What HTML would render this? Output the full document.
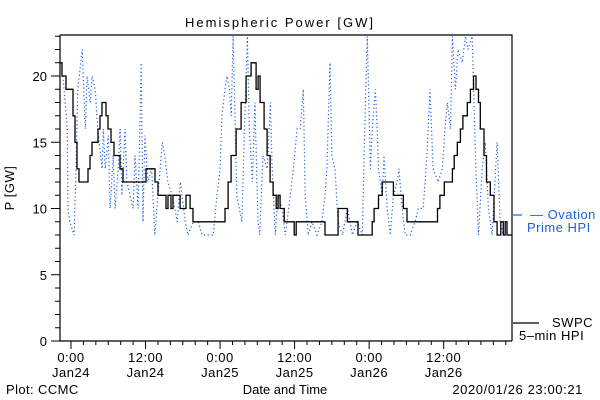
<!DOCTYPE html>
<html><head><meta charset="utf-8"><style>
body{margin:0;background:#fff}
svg{display:block}
text{font-family:"Liberation Sans",sans-serif;font-size:13px}
</style></head><body>
<svg id="chart" width="600" height="400" viewBox="0 0 600 400">
<rect width="600" height="400" fill="#fff"/>
<text x="280" y="27" text-anchor="middle" font-size="16" letter-spacing="2">Hemispheric Power [GW]</text>
<defs><clipPath id="pc"><rect x="60" y="35" width="452" height="306"/></clipPath></defs>
<g id="grid"></g>
<g id="series" clip-path="url(#pc)"></g>
<path d="M60,35H512V341M60,35V341H512" fill="none" stroke="#000" stroke-width="1.2"/>
<g id="axes"></g>
<text x="14" y="188" transform="rotate(-90 14 188)" text-anchor="middle" letter-spacing="0.5">P [GW]</text>
<text x="285" y="394" text-anchor="middle">Date and Time</text>
<text x="6" y="394" letter-spacing="0.4">Plot: CCMC</text>
<text x="583" y="394" text-anchor="end" letter-spacing="0.6">2020/01/26 23:00:21</text>
<g>
<line x1="513" y1="215" x2="522" y2="215" stroke="#1f5fe0" stroke-width="1.2"/>
<text x="530" y="219" fill="#1f5fe0" letter-spacing="0.5">— Ovation</text>
<text x="527" y="232" fill="#1f5fe0" letter-spacing="0.5">Prime HPI</text>
</g>
<g>
<line x1="513" y1="323" x2="539" y2="323" stroke="#000" stroke-width="1.2"/>
<text x="552" y="327" letter-spacing="0.5">SWPC</text>
<text x="519" y="340" letter-spacing="0.5">5–min HPI</text>
</g>
</svg>
<script>
const yTicks=[0,5,10,15,20];
const xTickHours=[0,12,24,36,48,60];
const xTickTimes=["0:00","12:00","0:00","12:00","0:00","12:00"];
const xTickDays=["Jan24","Jan24","Jan25","Jan25","Jan26","Jan26"];
const swpcHours=[-1.77,-1.45,-0.8,0,0.32,0.64,0.97,1.29,2.26,2.74,3.06,3.38,4.03,4.35,4.67,4.99,5.32,5.64,5.96,6.44,6.93,7.57,7.89,8.38,11.76,12.08,13.21,13.53,14.01,14.98,15.3,15.62,16.1,16.43,17.24,17.56,18.2,18.52,19.17,19.65,24.32,24.8,25.29,25.77,26.58,27.38,28.19,28.99,29.48,29.8,30.12,30.45,31.09,31.57,32.06,32.54,33.03,33.35,33.67,34.32,35.29,35.93,36.25,38.0,40.9,43.0,44.5,46.2,48.5,48.8,49.5,50.1,51.9,53.5,54.1,58.6,59.0,59.4,60.1,61.4,61.7,62.2,62.7,63.1,63.8,64.3,64.8,65.2,65.6,65.9,66.5,66.9,67.5,68.1,68.6,69.2,69.6,69.9,70.2,71.0];
const swpcPower=[21,20,19,19,17,15,13,12,12,13,14,15,15,16,17,18,18,17,16,15,14,14,13,12,12,13,13,12,11,11,10,11,10,11,11,10,10,11,10,9,9,10,12,14,16,18,20,21,21,19,20,18,16,14,12,11,10,11,10,9,9,8,9,9,8,10,9,8,9,10,11,12,11,10,9,9,10,11,12,13,14,15,16,17,18,19,20,19,18,16,14,12,11,9,8,9,8,9,8,8];
const ovHours=[-1.3,-0.6,-0.5,-0.2,0.5,0.8,1.1,1.8,2.3,2.6,3.1,3.4,3.9,4.3,5.0,5.2,5.5,6.0,6.3,6.8,7.1,7.6,7.9,8.2,8.7,9.0,9.5,10.0,10.3,10.8,11.3,11.6,11.9,12.4,13.0,13.5,14.0,14.7,15.1,15.6,16.3,17.1,17.6,18.4,18.8,19.7,20.5,21.1,22.1,22.9,23.5,24.0,24.3,24.8,25.1,25.5,25.8,26.1,26.7,27.5,28.0,28.4,28.7,29.2,29.6,30.1,30.4,30.9,31.6,32.1,32.4,32.9,33.3,34.0,34.5,35.3,35.8,36.4,36.9,37.4,37.7,38.2,38.8,39.6,40.4,40.9,41.2,41.7,42.0,42.5,43.0,43.7,44.5,45.3,46.1,46.9,47.4,47.7,48.2,48.5,49.0,49.3,49.5,50.1,50.4,50.9,51.4,51.9,52.5,52.8,53.3,53.8,54.6,55.4,55.9,56.7,57.3,57.8,58.3,59.1,59.8,60.2,60.6,61.1,61.4,61.9,62.3,63.0,63.5,63.9,64.6,65.1,65.6,66.2,66.7,67.2,67.8,68.6,69.1,69.6,70.4,71.0];
const ovPower=[20,16,10,9,8,13,19,22,16,20,18,20,19,16,13,16,13,15.5,10,14,10,13,16,11,16,12,11,10,14,10,21,9,15.5,12,13,8,11,15,14,12,11,9,12,9,8,9,9,8,8,8,11,13,17,19,20,19,17,23,11,9,17,23,16,12,18,9,8,14,13,18,13,8,11,10,8,11,13,16,16,19,11,8,9,8,9,11,13,21,14,13,9,8,10,8,9,8,18,23,13,16,19,16,13,11,14,10,8,11,12,13,10,8,8,9,10,10,14,19,13,12,13,16,18,16,23,19,22,21,23,22,23,14,8,13,15,10,8,15,9,8,8,8];

const NS="http://www.w3.org/2000/svg";
const X0=60,X1=512,H0=-1.77,H1=71.0,Y0=341,YS=13.25;
function xs(h){return X0+(h-H0)*(X1-X0)/(H1-H0);}
function ys(v){return Y0-v*YS;}
const axes=document.getElementById('axes');
const series=document.getElementById('series');
function mk(tag,attrs,parent){const e=document.createElementNS(NS,tag);for(const k in attrs)e.setAttribute(k,attrs[k]);parent.appendChild(e);return e;}
for(let v=0;v<=23;v++){
  const l=mk('line',{x1:X0,x2:X0-(v%5===0?9:5),y1:ys(v),y2:ys(v),stroke:'#000','stroke-width':1},axes);
  
  
}
yTicks.forEach(v=>{
  const t=mk('text',{x:47,y:ys(v)+5,'text-anchor':'end'},axes);t.textContent=v;
  
  
});
for(let h=0;h<=70;h+=2){
  const l=mk('line',{x1:xs(h),x2:xs(h),y1:Y0,y2:Y0+(h%12===0?8:4),stroke:'#000','stroke-width':1},axes);
  
  
}
xTickHours.forEach((h,i)=>{
  const t=mk('text',{x:xs(h),y:362,'text-anchor':'middle','letter-spacing':0.5},axes);t.textContent=xTickTimes[i];
  
  
  const d=mk('text',{x:xs(h),y:377,'text-anchor':'middle','letter-spacing':0.5},axes);d.textContent=xTickDays[i];
  
  
});
let d='';
ovHours.forEach((h,i)=>{d+=(i?'L':'M')+xs(h).toFixed(1)+','+ys(ovPower[i]).toFixed(1);});
const ov=mk('path',{d:d,fill:'none',stroke:'#1f5fe0','stroke-width':1.2,'stroke-dasharray':'1.2 2.6'},series);


let s='';
swpcHours.forEach((h,i)=>{
  if(i===0)s+='M'+xs(h).toFixed(1)+','+ys(swpcPower[0]).toFixed(1);
  else s+='H'+xs(h).toFixed(1)+'V'+ys(swpcPower[i]).toFixed(1);
});
const sw=mk('path',{d:s,fill:'none',stroke:'#000','stroke-width':1.3},series);


</script>
</body></html>
